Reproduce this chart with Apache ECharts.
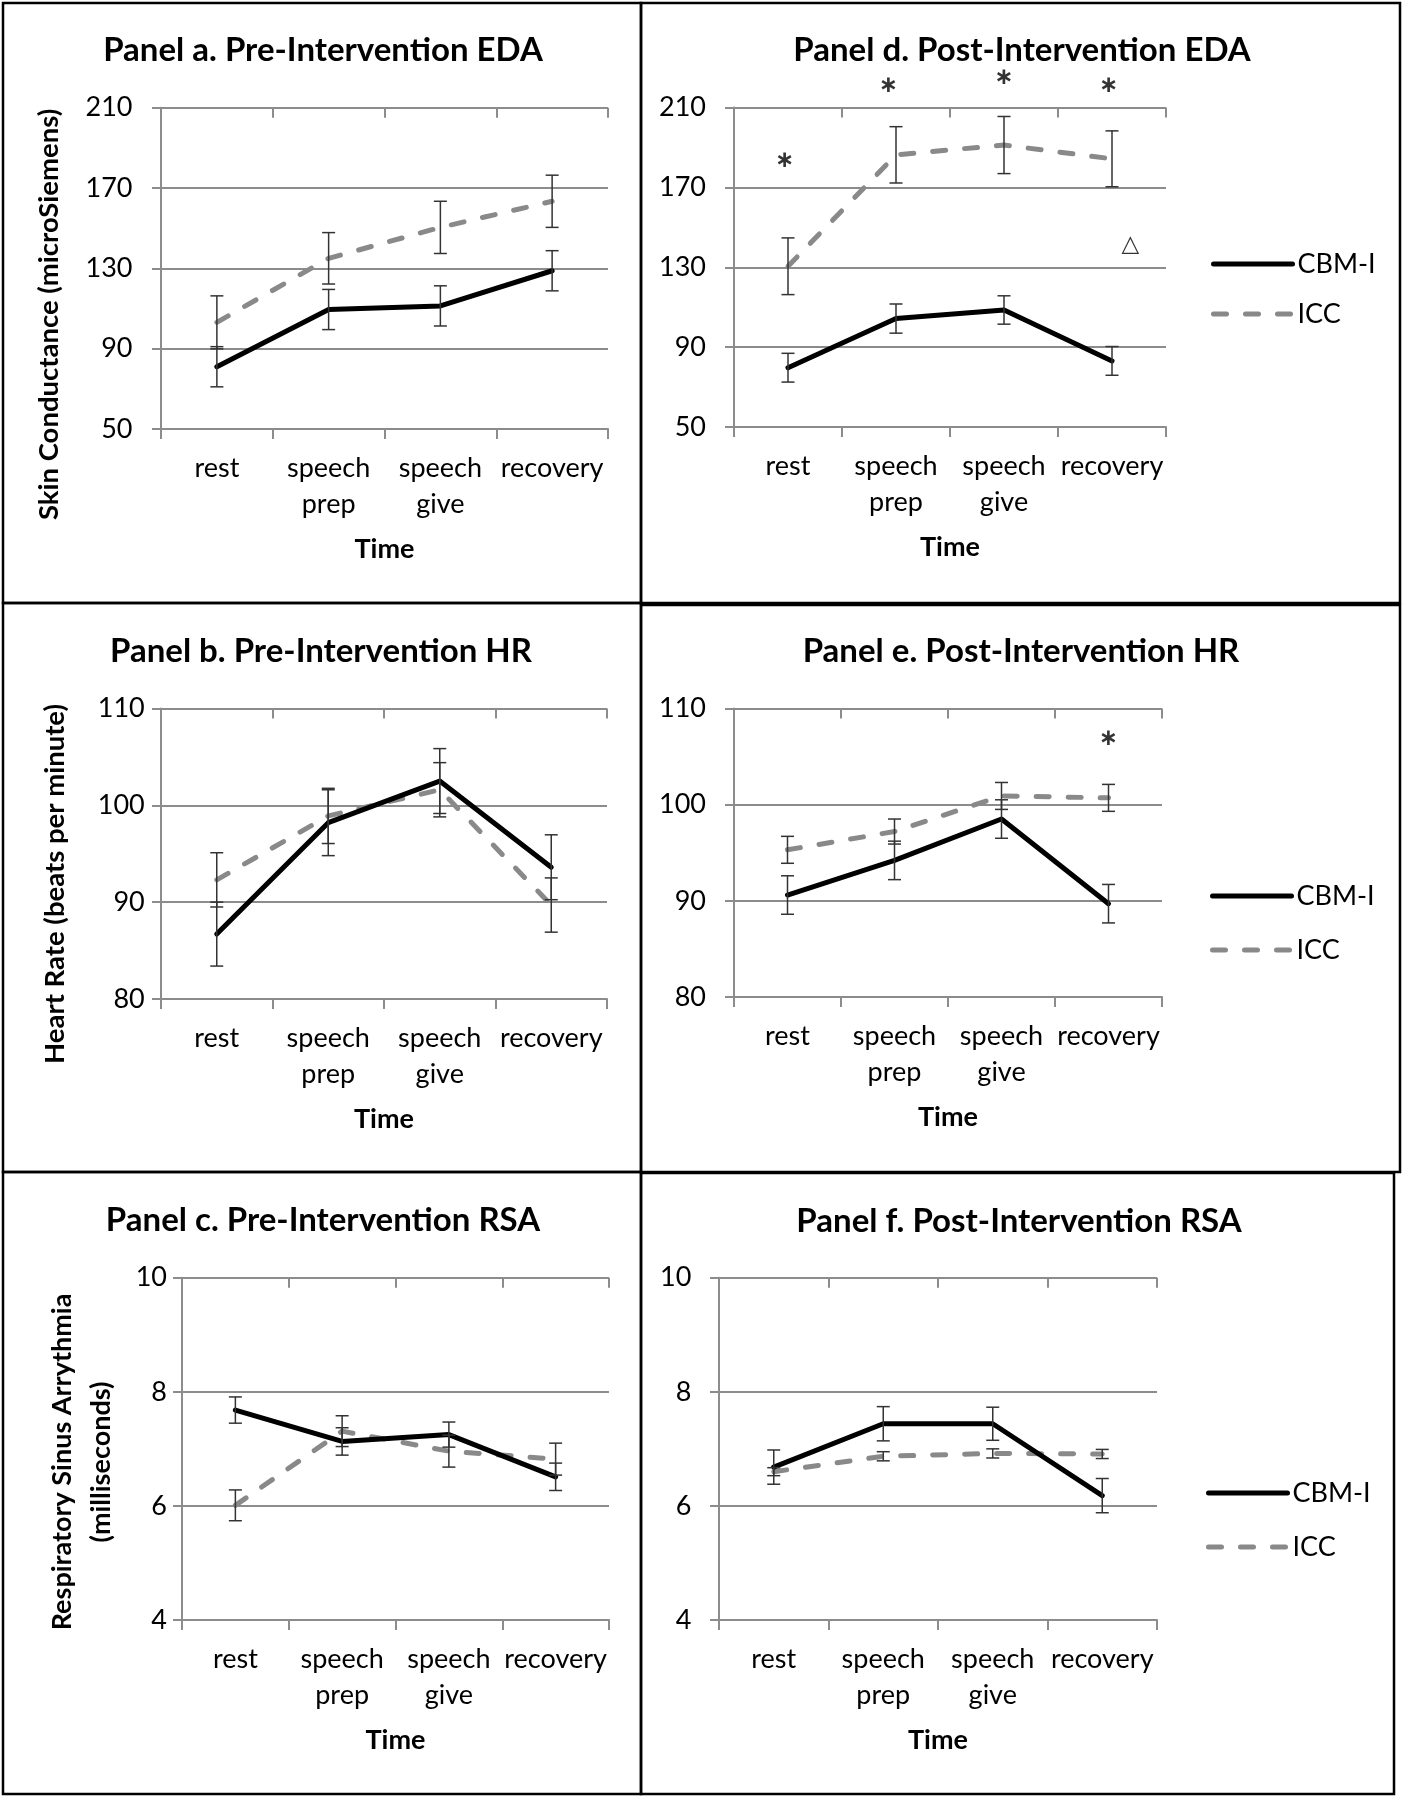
<!DOCTYPE html>
<html><head><meta charset="utf-8">
<script src="https://cdn.jsdelivr.net/npm/echarts@6/dist/echarts.min.js"></script>
<style>html,body{margin:0;padding:0;background:#fff}#c{width:1406px;height:1800px}</style>
</head><body><div id="c"></div>
<script>
// ---------- DATA ----------
const categories = ['rest', 'speech\nprep', 'speech\ngive', 'recovery'];
const groupNames = ['CBM-I', 'ICC'];

// Panel a: Pre-Intervention EDA
const edaPreCBM = [81.0, 109.5, 111.3, 128.8];
const edaPreCBMErr = [10.0, 10.0, 10.0, 10.0];
const edaPreICC = [103.1, 135.0, 150.4, 163.4];
const edaPreICCErr = [13.2, 12.8, 13.0, 13.0];

// Panel d: Post-Intervention EDA
const edaPostCBM = [79.7, 104.3, 108.6, 83.1];
const edaPostCBMErr = [7.2, 7.3, 7.1, 7.2];
const edaPostICC = [130.5, 186.3, 191.2, 184.3];
const edaPostICCErr = [14.2, 14.1, 14.3, 14.0];

// Panel b: Pre-Intervention HR
const hrPreCBM = [86.7, 98.2, 102.5, 93.6];
const hrPreCBMErr = [3.3, 3.4, 3.35, 3.35];
const hrPreICC = [92.3, 98.9, 101.6, 89.7];
const hrPreICCErr = [2.8, 2.85, 2.8, 2.8];

// Panel e: Post-Intervention HR
const hrPostCBM = [90.6, 94.2, 98.5, 89.7];
const hrPostCBMErr = [2.0, 2.0, 2.0, 2.0];
const hrPostICC = [95.3, 97.2, 100.9, 100.7];
const hrPostICCErr = [1.4, 1.3, 1.4, 1.4];

// Panel c: Pre-Intervention RSA
const rsaPreCBM = [7.68, 7.13, 7.25, 6.51];
const rsaPreCBMErr = [0.23, 0.24, 0.22, 0.24];
const rsaPreICC = [6.01, 7.31, 6.96, 6.82];
const rsaPreICCErr = [0.27, 0.27, 0.28, 0.28];

// Panel f: Post-Intervention RSA
const rsaPostCBM = [6.68, 7.44, 7.44, 6.18];
const rsaPostCBMErr = [0.30, 0.30, 0.29, 0.30];
const rsaPostICC = [6.60, 6.87, 6.92, 6.91];
const rsaPostICCErr = [0.07, 0.08, 0.08, 0.08];

// Significance annotations (x in category units 0..4, y in data units)
const edaPostNoteX = [0.47, 1.43, 2.5, 3.47, 3.67];
const edaPostNoteY = [183.3, 221, 225, 221, 141];
const edaPostNoteText = ['∗', '∗', '∗', '∗', '△'];
const hrPostNoteX = [3.5];
const hrPostNoteY = [106.8];
const hrPostNoteText = ['∗'];

// Axis ticks
const edaTicks = {min: 50, max: 210, interval: 40};
const hrTicks = {min: 80, max: 110, interval: 10};
const rsaTicks = {min: 4, max: 10, interval: 2};

const titles = ['Panel a. Pre-Intervention EDA', 'Panel b. Pre-Intervention HR', 'Panel c. Pre-Intervention RSA',
                'Panel d. Post-Intervention EDA', 'Panel e. Post-Intervention HR', 'Panel f. Post-Intervention RSA'];
const yNames = ['Skin Conductance (microSiemens)', 'Heart Rate (beats per minute)', 'Respiratory Sinus Arrythmia\n(milliseconds)'];
const xName = 'Time';

// ---------- LAYOUT ----------
const FONT = 'Lato';
const GRID = '#8c8c8c';
const panels = [
  {title: titles[0], tpos: [323, 31], grid: {left: 161, top: 107.7, width: 447, height: 321.3}, ticks: edaTicks, lm: 28.5,
   cbm: edaPreCBM, cbmE: edaPreCBMErr, icc: edaPreICC, iccE: edaPreICCErr},
  {title: titles[1], tpos: [321, 632], grid: {left: 161, top: 708.4, width: 446, height: 290.6}, ticks: hrTicks, lm: 16.3,
   cbm: hrPreCBM, cbmE: hrPreCBMErr, icc: hrPreICC, iccE: hrPreICCErr},
  {title: titles[2], tpos: [323, 1201.5], grid: {left: 182, top: 1277.7, width: 427, height: 342.3}, ticks: rsaTicks, lm: 15,
   cbm: rsaPreCBM, cbmE: rsaPreCBMErr, icc: rsaPreICC, iccE: rsaPreICCErr},
  {title: titles[3], tpos: [1022, 31], grid: {left: 734, top: 107.5, width: 432, height: 319.5}, ticks: edaTicks, lm: 28,
   cbm: edaPostCBM, cbmE: edaPostCBMErr, icc: edaPostICC, iccE: edaPostICCErr,
   notes: {x: edaPostNoteX, y: edaPostNoteY, t: edaPostNoteText}, legend: {left: 1211, top: 249, gap: 20}},
  {title: titles[4], tpos: [1021, 632.5], grid: {left: 734, top: 708.4, width: 428, height: 288.6}, ticks: hrTicks, lm: 28,
   cbm: hrPostCBM, cbmE: hrPostCBMErr, icc: hrPostICC, iccE: hrPostICCErr,
   notes: {x: hrPostNoteX, y: hrPostNoteY, t: hrPostNoteText}, legend: {left: 1210, top: 881, gap: 24}},
  {title: titles[5], tpos: [1019, 1202.5], grid: {left: 719, top: 1277.7, width: 438, height: 342.3}, ticks: rsaTicks, lm: 27.7,
   cbm: rsaPostCBM, cbmE: rsaPostCBMErr, icc: rsaPostICC, iccE: rsaPostICCErr, legend: {left: 1206, top: 1478, gap: 24}}
];

function errRender(params, api) {
  const x = api.value(0);
  const lo = api.coord([x, api.value(1)]);
  const hi = api.coord([x, api.value(2)]);
  const w = 6.5;
  const style = {stroke: '#333', lineWidth: 1.5};
  return {type: 'group', children: [
    {type: 'line', shape: {x1: lo[0], y1: lo[1], x2: hi[0], y2: hi[1]}, style: style},
    {type: 'line', shape: {x1: lo[0] - w, y1: lo[1], x2: lo[0] + w, y2: lo[1]}, style: style},
    {type: 'line', shape: {x1: hi[0] - w, y1: hi[1], x2: hi[0] + w, y2: hi[1]}, style: style}
  ]};
}

const option = {
  animation: false,
  backgroundColor: '#fff',
  textStyle: {fontFamily: FONT, color: '#000'},
  title: [], grid: [], xAxis: [], yAxis: [], series: [], legend: [], graphic: []
};

panels.forEach((p, i) => {
  option.title.push({text: p.title, left: p.tpos[0], top: p.tpos[1], textAlign: 'center', padding: 0,
    textStyle: {fontFamily: FONT, fontWeight: 'bold', fontSize: 33, lineHeight: 38, color: '#000'}});
  option.grid.push(Object.assign({containLabel: false, outerBoundsMode: 'none'}, p.grid));
  const xMain = option.xAxis.length;
  option.xAxis.push({type: 'category', gridIndex: i, data: categories, boundaryGap: true,
    axisLine: {show: true, lineStyle: {color: GRID, width: 2}},
    axisTick: {show: true, inside: false, length: 10, alignWithLabel: false, lineStyle: {color: GRID, width: 2}},
    axisLabel: {interval: 0, margin: 21, fontSize: 27, lineHeight: 36, color: '#000', fontFamily: FONT, hideOverlap: false},
    splitLine: {show: false},
    name: xName, nameLocation: 'middle', nameGap: 105,
    nameTextStyle: {fontFamily: FONT, fontWeight: 'bold', fontSize: 27, lineHeight: 30, color: '#000'}});
  option.xAxis.push({type: 'category', gridIndex: i, data: categories, boundaryGap: true,
    axisLine: {show: false}, axisLabel: {show: false}, splitLine: {show: false},
    axisTick: {show: true, inside: true, length: 10, lineStyle: {color: GRID, width: 2}}});
  const yIdx = option.yAxis.length;
  option.yAxis.push({type: 'value', gridIndex: i, min: p.ticks.min, max: p.ticks.max, interval: p.ticks.interval,
    axisLine: {show: true, lineStyle: {color: GRID, width: 2}},
    axisTick: {show: true, inside: false, length: 9, lineStyle: {color: GRID, width: 2}},
    axisLabel: {margin: p.lm, fontSize: 27, color: '#000', fontFamily: FONT},
    splitLine: {show: true, lineStyle: {color: GRID, width: 2}}});
  option.series.push({name: 'ICC', type: 'line', xAxisIndex: xMain, yAxisIndex: yIdx, data: p.icc, symbol: 'none',
    lineStyle: {color: '#898989', width: 5, type: [13, 19], cap: 'round', join: 'round'}, itemStyle: {color: '#898989'}, z: 2});
  option.series.push({name: 'CBM-I', type: 'line', xAxisIndex: xMain, yAxisIndex: yIdx, data: p.cbm, symbol: 'none',
    lineStyle: {color: '#000', width: 5, cap: 'round', join: 'round'}, itemStyle: {color: '#000'}, z: 3});
  [[p.icc, p.iccE], [p.cbm, p.cbmE]].forEach(([m, e]) => {
    option.series.push({type: 'custom', xAxisIndex: xMain, yAxisIndex: yIdx, renderItem: errRender, clip: false, z: 4,
      silent: true, encode: {x: 0, y: [1, 2]},
      data: m.map((v, k) => [k, v - e[k], v + e[k]])});
  });
  if (p.notes) {
    const xv = option.xAxis.length;
    option.xAxis.push({type: 'value', gridIndex: i, min: 0, max: 4, show: false});
    option.series.push({type: 'scatter', xAxisIndex: xv, yAxisIndex: yIdx, symbolSize: 1, clip: false,
      itemStyle: {color: 'rgba(0,0,0,0)'}, silent: true, z: 5,
      label: {show: true, position: 'inside', formatter: (d) => p.notes.t[d.dataIndex],
        fontFamily: 'DejaVu Sans', fontWeight: 'bold', fontSize: 23, color: '#000'},
      data: p.notes.x.map((x, k) => [x, p.notes.y[k]])});
  }
  if (p.legend) {
    option.legend.push({data: groupNames, orient: 'vertical', left: p.legend.left, top: p.legend.top,
      itemWidth: 79, itemHeight: 30, itemGap: p.legend.gap, padding: 0, selectedMode: false,
      lineStyle: {width: 5},
      itemStyle: {opacity: 0, borderWidth: 0},
      textStyle: {fontFamily: FONT, fontSize: 27, lineHeight: 30, color: '#000'}});
  }
});

// Rotated y-axis titles
option.graphic.push(
  {type: 'text', x: 49, y: 314.4, rotation: Math.PI / 2,
   style: {text: yNames[0], fontFamily: FONT, fontWeight: 'bold', fontSize: 27.5, fill: '#000', align: 'center', verticalAlign: 'middle'}},
  {type: 'text', x: 55, y: 884, rotation: Math.PI / 2,
   style: {text: yNames[1], fontFamily: FONT, fontWeight: 'bold', fontSize: 27.5, fill: '#000', align: 'center', verticalAlign: 'middle'}},
  {type: 'text', x: 81.5, y: 1462, rotation: Math.PI / 2,
   style: {text: yNames[2], fontFamily: FONT, fontWeight: 'bold', fontSize: 27, lineHeight: 39, fill: '#000', align: 'center', verticalAlign: 'middle'}}
);
// Panel borders
[[3, 3, 638, 600], [641, 3, 759, 600], [3, 603, 638, 569], [641, 605, 759, 567], [3, 1172, 638, 622], [641, 1173, 753, 621]]
  .forEach(r => option.graphic.push({type: 'rect', shape: {x: r[0], y: r[1], width: r[2], height: r[3]},
    style: {fill: 'none', stroke: '#000', lineWidth: 2.5}, silent: true, z: 100}));

const chart = echarts.init(document.getElementById('c'), null, {renderer: 'canvas'});
chart.setOption(option);
</script></body></html>
